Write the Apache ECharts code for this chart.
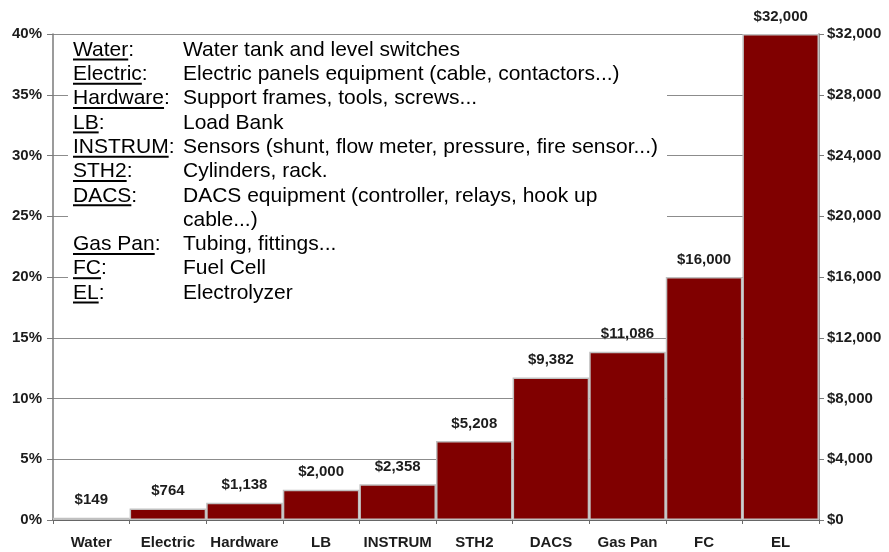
<!DOCTYPE html>
<html>
<head>
<meta charset="utf-8">
<title>Equipment cost breakdown</title>
<script src="https://cdn.jsdelivr.net/npm/echarts@6/dist/echarts.min.js"></script>
<style>
  html, body { margin: 0; padding: 0; background: #fff; }
  #chart { width: 889px; height: 552px; }
</style>
</head>
<body>
<div id="chart"></div>
<script>
// Cost per equipment category, in dollars
const categories = ['Water', 'Electric', 'Hardware', 'LB', 'INSTRUM', 'STH2', 'DACS', 'Gas Pan', 'FC', 'EL'];
const costs = [149, 764, 1138, 2000, 2358, 5208, 9382, 11086, 16000, 32000];

// Share-of-total axis (left) and dollar axis (right)
const percentMax = 40, percentStep = 5;
const dollarMax = 32000, dollarStep = 4000;

// Abbreviation key shown in the upper-left box (one entry per printed line)
const keyTerms = ['Water', 'Electric', 'Hardware', 'LB', 'INSTRUM', 'STH2', 'DACS', '', 'Gas Pan', 'FC', 'EL'];
const keyDescriptions = [
  'Water tank and level switches',
  'Electric panels equipment (cable, contactors...)',
  'Support frames, tools, screws...',
  'Load Bank',
  'Sensors (shunt, flow meter, pressure, fire sensor...)',
  'Cylinders, rack.',
  'DACS equipment (controller, relays, hook up',
  'cable...)',
  'Tubing, fittings...',
  'Fuel Cell',
  'Electrolyzer'
];

const FONT = '"Liberation Sans", Arial, Helvetica, sans-serif';
const dollars = v => '$' + v.toLocaleString('en-US');

// measure text so the key terms can be underlined
const measureCtx = document.createElement('canvas').getContext('2d');
function textWidth(str, size) {
  measureCtx.font = 'normal ' + size + 'px ' + FONT;
  return measureCtx.measureText(str).width;
}

const keyFont = 21, keyTop = 50, keyStep = 24.3, keyX = 73, descX = 183;
const graphics = [{
  type: 'rect', z: 1,
  shape: { x: 68, y: 38, width: 599, height: 277 },
  style: { fill: '#ffffff' }
}];
keyTerms.forEach((term, i) => {
  const y = keyTop + i * keyStep;
  if (term) {
    graphics.push({
      type: 'text', z: 5, x: keyX, y: y,
      style: { text: term + ':', font: 'normal ' + keyFont + 'px ' + FONT, fill: '#000', verticalAlign: 'middle' }
    });
    const w = textWidth(term, keyFont);
    graphics.push({
      type: 'line', z: 5,
      shape: { x1: keyX, y1: y + 9.5, x2: keyX + w, y2: y + 9.5 },
      style: { stroke: '#000', lineWidth: 2 }
    });
  }
  graphics.push({
    type: 'text', z: 5, x: descX, y: y,
    style: { text: keyDescriptions[i], font: 'normal ' + keyFont + 'px ' + FONT, fill: '#000', verticalAlign: 'middle' }
  });
});

const axisLabelStyle = { color: '#1c1c1c', fontWeight: 'bold', fontSize: 15, fontFamily: FONT };

const chart = echarts.init(document.getElementById('chart'), null, { renderer: 'canvas' });
chart.setOption({
  backgroundColor: '#ffffff',
  animation: false,
  grid: { left: 53, right: 70, top: 34, bottom: 32, containLabel: false },
  xAxis: {
    type: 'category',
    data: categories,
    boundaryGap: true,
    axisLine: { lineStyle: { color: '#5a5a5a', width: 1.5 } },
    axisTick: { show: true, length: 4, lineStyle: { color: '#6a6a6a' } },
    axisLabel: Object.assign({ margin: 15, interval: 0 }, axisLabelStyle)
  },
  yAxis: [
    {
      type: 'value', position: 'left',
      min: 0, max: percentMax, interval: percentStep,
      axisLine: { show: true, lineStyle: { color: '#7a7a7a', width: 1.5 } },
      axisTick: { show: true, length: 6, lineStyle: { color: '#7a7a7a' } },
      axisLabel: Object.assign({ margin: 11, formatter: '{value}%' }, axisLabelStyle),
      splitLine: { show: true, lineStyle: { color: '#8c8c8c', width: 1 } }
    },
    {
      type: 'value', position: 'right',
      min: 0, max: dollarMax, interval: dollarStep,
      axisLine: { show: true, lineStyle: { color: '#7a7a7a', width: 1.5 } },
      axisTick: { show: true, length: 5, lineStyle: { color: '#7a7a7a' } },
      axisLabel: Object.assign({ margin: 8, formatter: v => dollars(v) }, axisLabelStyle),
      splitLine: { show: false }
    }
  ],
  graphic: { elements: graphics },
  series: [{
    type: 'bar',
    yAxisIndex: 1,
    data: costs,
    barCategoryGap: '0%',
    z: 2,
    itemStyle: { color: '#800000', borderColor: '#c0c0c0', borderWidth: 1.5 },
    label: {
      show: true, position: 'top', distance: 10,
      formatter: p => dollars(p.value),
      color: '#1c1c1c', fontWeight: 'bold', fontSize: 15, fontFamily: FONT
    }
  }]
});
</script>
</body>
</html>
